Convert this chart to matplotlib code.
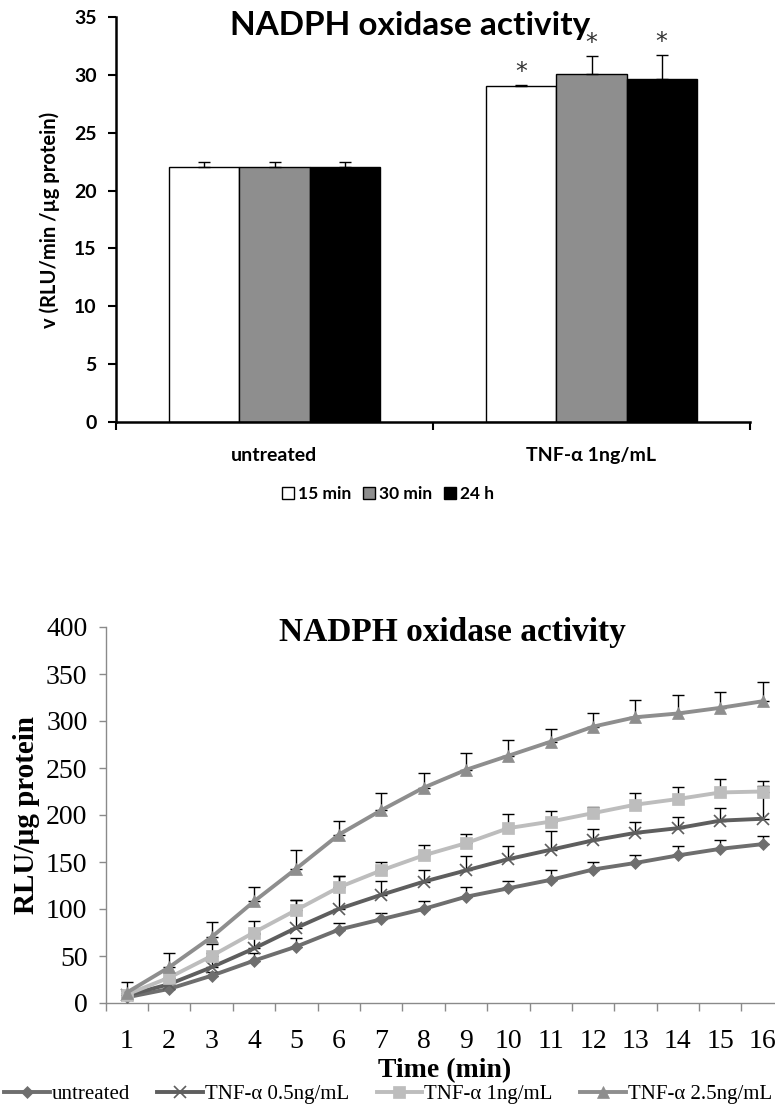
import matplotlib
matplotlib.use('Agg')
import matplotlib.pyplot as plt
from matplotlib.patches import Patch
from matplotlib.lines import Line2D
import numpy as np

# ---------------- Top chart data ----------------
groups = ['untreated', 'TNF-α 1ng/mL']
series_names = ['15 min', '30 min', '24 h']
v_15min = [22.0, 29.0]
v_30min = [22.0, 30.1]
v_24h = [22.0, 29.6]
e_15min = [0.5, 0.15]
e_30min = [0.5, 1.55]
e_24h = [0.5, 2.1]
sig_group = [False, True]
bar_yticks = [0, 5, 10, 15, 20, 25, 30, 35]

# ---------------- Bottom chart data ----------------
minutes = list(range(1, 17))
untreated = [6, 15, 29, 45, 60, 78, 89, 100, 113, 122, 131, 142, 149, 157, 164, 169]
untreated_err = [3, 3, 4, 8, 9, 7, 7, 9, 10, 8, 10, 8, 8, 10, 9, 9]
tnf05 = [8, 20, 38, 58, 80, 100, 115, 129, 141, 153, 163, 173, 181, 186, 194, 196]
tnf05_err = [5, 5, 15, 15, 30, 35, 15, 12, 15, 14, 20, 12, 12, 12, 13, 35]
tnf1 = [9, 27, 50, 75, 99, 123, 141, 157, 170, 186, 193, 202, 211, 217, 224, 225]
tnf1_err = [5, 5, 13, 12, 11, 12, 9, 11, 10, 15, 11, 7, 12, 13, 14, 11]
tnf25 = [11, 38, 70, 108, 143, 179, 205, 229, 248, 263, 278, 294, 304, 308, 314, 321]
tnf25_err = [11, 15, 16, 15, 20, 15, 18, 16, 18, 17, 13, 15, 18, 20, 17, 21]
line_labels = ['untreated', 'TNF-α 0.5ng/mL', 'TNF-α 1ng/mL', 'TNF-α 2.5ng/mL']

W, H = 775, 1106
fig = plt.figure(figsize=(W / 100, H / 100), dpi=100)

def ax_rect(left, top, right, bottom):
    return [left / W, 1 - bottom / H, (right - left) / W, (bottom - top) / H]

# ================= Top chart =================
sans = 'Lato'
ax1 = fig.add_axes(ax_rect(116, 17, 750, 422))
bw = 0.221
centers = np.array([0.5, 1.5])
colors = ['white', '#8e8e8e', 'black']
vals = [v_15min, v_30min, v_24h]
errs = [e_15min, e_30min, e_24h]
for i, (v, e, c, name) in enumerate(zip(vals, errs, colors, series_names)):
    x = centers + (i - 1) * bw
    ax1.bar(x, v, width=bw, color=c, edgecolor='black', linewidth=1.0, zorder=2, label=name)
    ax1.errorbar(x, v, yerr=[np.zeros(len(v)), e], fmt='none', ecolor='black',
                 elinewidth=1.0, capsize=4, capthick=1.0, zorder=3)
    for xi, vi, ei, s in zip(x, v, e, sig_group):
        if s:
            ax1.text(xi, vi + ei + 1.1, '*', ha='center', va='center', fontsize=17,
                     color='#333333', family='DejaVu Sans')
ax1.set_xlim(0, 2)
ax1.set_ylim(0, 35)
ax1.set_yticks(bar_yticks)
ax1.set_yticklabels([str(t) for t in bar_yticks], fontsize=14, fontweight='bold', family=sans)
ax1.set_xticks([0, 1, 2])
ax1.set_xticklabels(['', '', ''])
ax1.set_xticks(centers, minor=True)
ax1.set_xticklabels(groups, minor=True, fontsize=14, fontweight='bold', family=sans)
ax1.tick_params(axis='x', which='minor', length=0, pad=18)
ax1.tick_params(axis='x', which='major', length=6, width=1.5, direction='out')
ax1.tick_params(axis='y', length=6, width=1.5, direction='out', pad=8)
for s in ['top', 'right']:
    ax1.spines[s].set_visible(False)
for s in ['left', 'bottom']:
    ax1.spines[s].set_linewidth(1.8)
ax1.set_ylabel('v (RLU/min /µg protein)', fontsize=14.5, fontweight='bold', family=sans, labelpad=10)
fig.text(410 / W, 1 - 25 / H, 'NADPH oxidase activity', ha='center', va='center',
         fontsize=24, fontweight='bold', family=sans)
handles = [Patch(facecolor=c, edgecolor='black', linewidth=1.0) for c in colors]
fig.legend(handles, series_names, loc='center', bbox_to_anchor=(388 / W, 1 - 494 / H), ncol=3,
           frameon=False, handlelength=0.7, handleheight=0.7, handletextpad=0.2,
           columnspacing=0.7, prop={'family': sans, 'weight': 'bold', 'size': 12.5})

# ================= Bottom chart =================
serif = 'Liberation Serif'
ax2 = fig.add_axes(ax_rect(105.5, 627, 105.5 + 16 * 42.4, 1003))
styles = [
    (untreated, untreated_err, '#6e6e6e', 'D', 6.5),
    (tnf05, tnf05_err, '#5e5e5e', 'x', 9),
    (tnf1, tnf1_err, '#bdbdbd', 's', 8),
    (tnf25, tnf25_err, '#8e8e8e', '^', 9),
]
legend_handles = []
for (y, e, c, m, ms), lab in zip(styles, line_labels):
    ax2.errorbar(minutes, y, yerr=[np.zeros(len(y)), e], fmt='none', ecolor='black',
                 elinewidth=1.0, capsize=4.5, capthick=1.0, zorder=2)
for (y, e, c, m, ms), lab in zip(styles, line_labels):
    mew = 1.2 if m == 'x' else 0.5
    ax2.plot(minutes, y, color=c, linewidth=2.8, marker=m, markersize=ms,
             markerfacecolor=c, markeredgecolor=c, markeredgewidth=mew, zorder=3)
    legend_handles.append(Line2D([0], [0], color=c, linewidth=2.8, marker=m, markersize=ms,
                                 markerfacecolor=c, markeredgecolor=c, markeredgewidth=mew))
ax2.set_xlim(0.5, 16.5)
ax2.set_ylim(0, 400)
ax2.set_yticks(range(0, 401, 50))
ax2.set_yticklabels([str(t) for t in range(0, 401, 50)], fontsize=20, family=serif)
ax2.set_xticks(minutes)
ax2.set_xticklabels([str(m) for m in minutes], fontsize=20, family=serif)
ax2.set_xticks(np.arange(0.5, 17, 1), minor=True)
ax2.tick_params(axis='x', which='major', length=0, pad=19)
ax2.tick_params(axis='x', which='minor', length=6, width=1.0, color='#8a8a8a', direction='out')
ax2.tick_params(axis='y', length=5, width=1.0, color='#8a8a8a', direction='out', pad=8)
for s in ['top', 'right']:
    ax2.spines[s].set_visible(False)
for s in ['left', 'bottom']:
    ax2.spines[s].set_color('#8a8a8a')
    ax2.spines[s].set_linewidth(1.0)
ax2.set_ylabel('RLU/µg protein', fontsize=21, fontweight='bold', family=serif, labelpad=4)
ax2.set_xlabel('Time (min)', fontsize=20, fontweight='bold', family=serif, labelpad=3)
fig.text(452 / W, 1 - 633 / H, 'NADPH oxidase activity', ha='center', va='center',
         fontsize=24, fontweight='bold', family=serif)
fig.legend(legend_handles, line_labels, loc='center', bbox_to_anchor=(388 / W, 1 - 1094 / H),
           ncol=4, frameon=False, handlelength=2.2, handletextpad=0.1, columnspacing=1.3,
           prop={'family': serif, 'size': 15})

fig.savefig('out.png', dpi=100)
